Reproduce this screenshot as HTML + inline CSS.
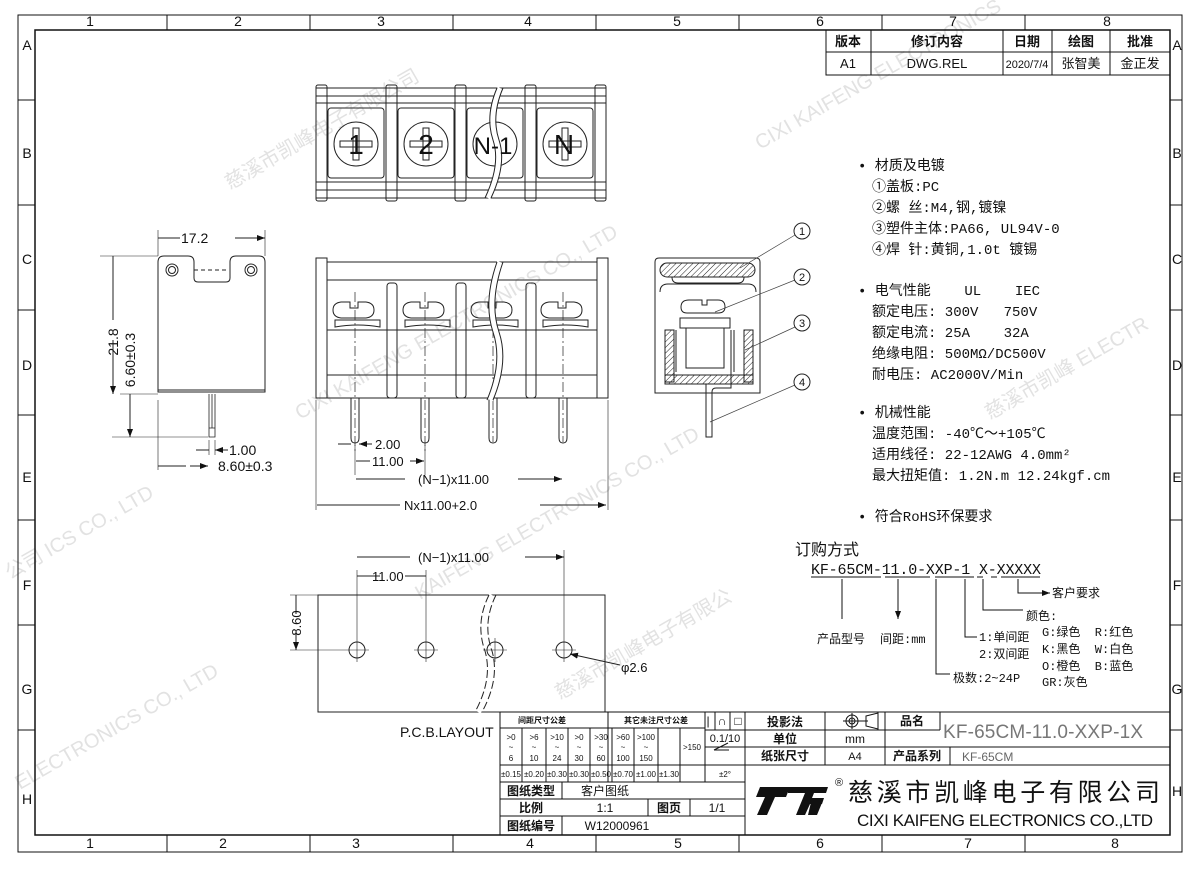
<!DOCTYPE html>
<html><head><meta charset="utf-8"><style>
html,body{margin:0;padding:0;background:#fff;}
svg{display:block;}
text{font-family:"Liberation Sans","Noto Sans CJK SC",sans-serif;fill:#111;}
.cn text, text.cn{font-family:"Liberation Mono","Noto Sans CJK SC",monospace;}
.wm text{fill:#e2e2e2;font-size:20px;}
</style></head><body>
<svg width="1200" height="870" viewBox="0 0 1200 870" xmlns="http://www.w3.org/2000/svg">
<defs>
<pattern id="h" width="4" height="4" patternUnits="userSpaceOnUse" patternTransform="rotate(45)"><line x1="0" y1="0" x2="0" y2="4" stroke="#222" stroke-width="1"/></pattern>
<marker id="a" markerWidth="8" markerHeight="6" refX="8" refY="3" orient="auto"><path d="M0,0 L8,3 L0,6z" fill="#111"/></marker>
</defs>
<rect width="1200" height="870" fill="#fff"/>
<g class="wm">
<text x="230" y="190" transform="rotate(-30 230 190)">慈溪市凯峰电子有限公司</text>
<text x="300" y="420" transform="rotate(-30 300 420)">CIXI KAIFENG ELECTRONICS CO., LTD</text>
<text x="760" y="150" transform="rotate(-30 760 150)">CIXI KAIFENG ELECTRONICS</text>
<text x="420" y="600" transform="rotate(-30 420 600)">KAIFENG ELECTRONICS CO., LTD</text>
<text x="10" y="580" transform="rotate(-30 10 580)">公司 ICS CO., LTD</text>
<text x="20" y="790" transform="rotate(-30 20 790)">ELECTRONICS CO., LTD</text>
<text x="990" y="420" transform="rotate(-30 990 420)">慈溪市凯峰 ELECTR</text>
<text x="560" y="700" transform="rotate(-30 560 700)">慈溪市凯峰电子有限公</text>
</g>
<g fill="none" stroke="#111">
<rect x="18" y="15" width="1164" height="837" stroke-width="1"/>
<rect x="35" y="30" width="1135" height="805" stroke-width="1.5"/>
<path d="M167,15v15 M310,15v15 M453,15v15 M596,15v15 M739,15v15 M882,15v15 M1025,15v15 M167,835v17 M310,835v17 M453,835v17 M596,835v17 M739,835v17 M882,835v17 M1025,835v17
M18,100h17 M18,205h17 M18,310h17 M18,415h17 M18,520h17 M18,625h17 M18,730h17 M1170,100h12 M1170,205h12 M1170,310h12 M1170,415h12 M1170,520h12 M1170,625h12 M1170,730h12"/>
</g>
<g font-size="14" text-anchor="middle">
<text x="90" y="26">1</text><text x="238" y="26">2</text><text x="381" y="26">3</text><text x="528" y="26">4</text><text x="677" y="26">5</text><text x="820" y="26">6</text><text x="953" y="26">7</text><text x="1107" y="26">8</text>
<text x="90" y="848">1</text><text x="223" y="848">2</text><text x="356" y="848">3</text><text x="530" y="848">4</text><text x="678" y="848">5</text><text x="820" y="848">6</text><text x="968" y="848">7</text><text x="1115" y="848">8</text>
<text x="27" y="50">A</text><text x="27" y="158">B</text><text x="27" y="264">C</text><text x="27" y="370">D</text><text x="27" y="482">E</text><text x="27" y="590">F</text><text x="27" y="694">G</text><text x="27" y="804">H</text>
<text x="1177" y="50">A</text><text x="1177" y="158">B</text><text x="1177" y="264">C</text><text x="1177" y="370">D</text><text x="1177" y="482">E</text><text x="1177" y="590">F</text><text x="1177" y="694">G</text><text x="1177" y="796">H</text>
</g>
<g fill="none" stroke="#111"><rect x="826" y="30" width="344" height="45"/><path d="M826,52h344 M871,30v45 M1003,30v45 M1052,30v45 M1110,30v45"/></g>
<g font-size="13" text-anchor="middle">
<text x="848" y="46" font-weight="bold">版本</text><text x="937" y="46" font-weight="bold">修订内容</text><text x="1027" y="46" font-weight="bold">日期</text><text x="1081" y="46" font-weight="bold">绘图</text><text x="1140" y="46" font-weight="bold">批准</text>
<text x="848" y="68">A1</text><text x="937" y="68">DWG.REL</text><text x="1027" y="68" font-size="11">2020/7/4</text><text x="1081" y="68">张智美</text><text x="1140" y="68">金正发</text>
</g>
<g fill="none" stroke="#222" stroke-width="1">
<rect x="316" y="88" width="290" height="110"/>
<path d="M316,96h290 M316,103h290 M316,182h290 M316,190h290"/>
<rect x="316" y="85" width="11" height="116" rx="2"/><rect x="386" y="85" width="11" height="116" rx="2"/><rect x="455" y="85" width="11" height="116" rx="2"/><rect x="525" y="85" width="11" height="116" rx="2"/><rect x="595" y="85" width="11" height="116" rx="2"/>
<rect x="328" y="108" width="56" height="70" rx="3"/><rect x="398" y="108" width="56" height="70" rx="3"/><rect x="467" y="108" width="56" height="70" rx="3"/><rect x="537" y="108" width="56" height="70" rx="3"/>
<circle cx="356" cy="144" r="22"/><circle cx="426" cy="144" r="22"/><circle cx="495" cy="144" r="22"/><circle cx="565" cy="144" r="22"/>
<path d="M340,141h32v6h-32z M353,128h6v32h-6z M410,141h32v6h-32z M423,128h6v32h-6z M549,141h32v6h-32z M562,128h6v32h-6z"/>
<path d="M500,88 q-12,28 -4,52 q8,24 -8,58" stroke="#fff" stroke-width="5"/><path d="M497,88 q-12,28 -4,52 q8,24 -8,58 M503,88 q-12,28 -4,52 q8,24 -8,58"/>
</g>
<g font-size="28" text-anchor="middle"><text x="356" y="154">1</text><text x="426" y="154">2</text><text x="493" y="154" font-size="24">N-1</text><text x="564" y="154">N</text></g>
<g fill="none" stroke="#222" stroke-width="1">
<rect x="316" y="258" width="11" height="140"/><rect x="597" y="258" width="11" height="140"/>
<rect x="327" y="262" width="270" height="18"/>
<path d="M327,280v118h270V280 M327,330h270 M327,375h270"/>
<rect x="387" y="283" width="10" height="115" rx="3"/><rect x="456" y="283" width="10" height="115" rx="3"/><rect x="526" y="283" width="10" height="115" rx="3"/>
<g id="scr"><path d="M341,318 q-8,-1 -8,-8 q0,-7 8,-8 h9 v6 h8 v-6 h8 q8,1 8,8 q0,7 -8,8z M335,320 h45 v7 q-22,-4 -45,0z"/></g>
<use href="#scr" x="70"/><use href="#scr" x="138"/><use href="#scr" x="208"/>
<path d="M351,398v40q0,5 4,5q4,0 4,-5v-40 M421,398v40q0,5 4,5q4,0 4,-5v-40 M489,398v40q0,5 4,5q4,0 4,-5v-40 M559,398v40q0,5 4,5q4,0 4,-5v-40"/>
<path d="M355,292v160 M425,292v160 M493,292v150 M563,292v150" stroke-dasharray="10,3,2,3" stroke-width=".7"/>
<path d="M500,262 q-14,40 -4,70 q10,30 -6,68" stroke="#fff" stroke-width="6"/><path d="M497,262 q-14,40 -4,70 q10,30 -6,68 M503,262 q-14,40 -4,70 q10,30 -6,68"/>
<path d="M316,400v110 M608,400v110 M355,445v30 M425,445v30" stroke-width=".6"/>
<path d="M338,444h13 M372,444h-13" marker-end="url(#a)"/>
<path d="M370,461h-14 M410,461h14" marker-end="url(#a)"/>
<path d="M405,479h-49 M518,479h44" marker-end="url(#a)"/>
<path d="M400,505h-83 M540,505h66" marker-end="url(#a)"/>
</g>
<g font-size="13"><text x="375" y="449">2.00</text><text x="372" y="466">11.00</text><text x="418" y="484">(N−1)x11.00</text><text x="404" y="510">Nx11.00+2.0</text></g>
<g fill="none" stroke="#222" stroke-width="1">
<path d="M158,262 q0,-6 6,-6 h24 q6,0 6,6 v16 q0,4 4,4 h28 q4,0 4,-4 v-16 q0,-6 6,-6 h23 q6,0 6,6 v130 h-107z"/>
<circle cx="172" cy="270" r="6"/><circle cx="172" cy="270" r="3.5"/><circle cx="251" cy="270" r="6"/><circle cx="251" cy="270" r="3.5"/>
<path d="M194,270h34" stroke-dasharray="4,3"/><path d="M158,390h107"/>
<path d="M209,394v43h6v-43 M209,428h6 M212,394v34" stroke-width=".8"/>
<path d="M158,230v26 M265,230v26 M100,256h58 M120,394h38 M112,437h96 M158,400v70 M209,440v15 M215,440v15" stroke-width=".6"/>
<path d="M180,238h-22 M235,238h30" marker-end="url(#a)"/>
<path d="M113,320v-64 M113,340v54" marker-end="url(#a)"/>
<path d="M130,420v-26 M130,420v17" marker-end="url(#a)"/>
<path d="M196,450h13 M228,450h-13" marker-end="url(#a)"/>
<path d="M186,466h-28 M190,466h18" marker-end="url(#a)"/>
</g>
<g font-size="14"><text x="181" y="243">17.2</text><text x="229" y="455">1.00</text><text x="218" y="471">8.60±0.3</text>
<text x="118" y="342" transform="rotate(-90 118 342)" text-anchor="middle">21.8</text>
<text x="135" y="360" transform="rotate(-90 135 360)" text-anchor="middle">6.60±0.3</text></g>
<g fill="none" stroke="#222" stroke-width="1">
<path d="M655,262 q0,-4 4,-4 h97 q4,0 4,4 v131 h-105z"/>
<rect x="660" y="263" width="95" height="14" rx="7" fill="url(#h)"/>
<path d="M672,277 q0,6 6,6 h60 q6,0 6,-6 M660,292 q0,-8 8,-8 h80 q8,0 8,8"/>
<path d="M687,313 q-6,0 -6,-6 q0,-7 8,-7 h13 v5 h5 v-5 h11 q7,0 7,7 q0,6 -7,6z"/>
<path d="M665,330h9v52h-9z M744,330h9v52h-9z M665,375h88v9h-88z" fill="url(#h)"/>
<path d="M680,318h50v10h-50z M686,328h38v40h-38z M676,330v42 M734,330v42"/>
<path d="M706,384v53h6v-45q0,-4 4,-4h15v-58"/>
</g>
<g fill="none" stroke="#444" stroke-width=".7"><path d="M740,268L795,235 M715,312L795,280 M745,350L795,327 M710,422L795,385"/></g>
<g fill="none" stroke="#222"><circle cx="802" cy="231" r="8"/><circle cx="802" cy="277" r="8"/><circle cx="802" cy="323" r="8"/><circle cx="802" cy="382" r="8"/></g>
<g font-size="11" text-anchor="middle"><text x="802" y="235">1</text><text x="802" y="281">2</text><text x="802" y="327">3</text><text x="802" y="386">4</text></g>
<g class="cn" font-size="14">
<text x="858" y="170">• 材质及电镀</text>
<text x="872" y="191">①盖板:PC</text>
<text x="872" y="212">②螺 丝:M4,钢,镀镍</text>
<text x="872" y="233">③塑件主体:PA66, UL94V-0</text>
<text x="872" y="254">④焊 针:黄铜,1.0t 镀锡</text>
<text x="858" y="295" xml:space="preserve">• 电气性能    UL    IEC</text>
<text x="872" y="316" xml:space="preserve">额定电压: 300V   750V</text>
<text x="872" y="337" xml:space="preserve">额定电流: 25A    32A</text>
<text x="872" y="358">绝缘电阻: 500MΩ/DC500V</text>
<text x="872" y="379">耐电压: AC2000V/Min</text>
<text x="858" y="417">• 机械性能</text>
<text x="872" y="438">温度范围: -40℃～+105℃</text>
<text x="872" y="459">适用线径: 22-12AWG 4.0mm²</text>
<text x="872" y="480">最大扭矩值: 1.2N.m 12.24kgf.cm</text>
<text x="858" y="521">• 符合RoHS环保要求</text>
</g>
<text x="795" y="555" font-size="16">订购方式</text>
<text x="811" y="574" font-size="15" class="cn" textLength="230">KF-65CM-11.0-XXP-1 X-XXXXX</text>
<g fill="none" stroke="#111" stroke-width="1">
<path d="M811,577h70 M885,577h45 M935,577h39 M977,577h6 M991,577h6 M1001,577h39"/>
<path d="M842,579v40 M898,579v40" marker-end="url(#a)"/>
<path d="M965,579v58h12 M936,579v95h14 M983,579v31h40 M1018,579v14h32" marker-end="url(#a)"/>
</g>
<g font-size="12" class="cn">
<text x="1052" y="597">客户要求</text><text x="1026" y="620">颜色:</text>
<text x="817" y="643">产品型号</text><text x="880" y="643">间距:mm</text>
<text x="979" y="641">1:单间距</text><text x="979" y="658">2:双间距</text><text x="953" y="682">极数:2~24P</text>
<text x="1042" y="636" xml:space="preserve">G:绿色  R:红色</text><text x="1042" y="653" xml:space="preserve">K:黑色  W:白色</text><text x="1042" y="670" xml:space="preserve">O:橙色  B:蓝色</text><text x="1042" y="686">GR:灰色</text>
</g>
<g fill="none" stroke="#222" stroke-width="1">
<rect x="318" y="595" width="287" height="117"/>
<path d="M492,595 q-14,28 -4,56 q8,28 -10,61" stroke="#fff" stroke-width="6"/><path d="M489,595 q-14,28 -4,56 q8,28 -10,61 M496,595 q-14,28 -4,56 q8,28 -10,61" stroke-dasharray="8,3"/>
<circle cx="357" cy="650" r="8"/><circle cx="426" cy="650" r="8"/><circle cx="495" cy="650" r="8"/><circle cx="564" cy="650" r="8"/>
<path d="M345,650h24 M357,638v24 M414,650h24 M426,638v24 M483,650h24 M495,638v24 M552,650h24 M564,638v24 M357,570v75 M426,570v75 M564,550v95 M290,595h28 M290,650h57" stroke-width=".6"/>
<path d="M380,576h-23 M405,576h21 M410,557h-53 M525,557h39" marker-end="url(#a)"/>
<path d="M296,614v-19 M296,632v18" marker-end="url(#a)"/>
<path d="M620,665l-50,-11" marker-end="url(#a)"/>
</g>
<g font-size="13"><text x="372" y="581">11.00</text><text x="418" y="562">(N−1)x11.00</text><text x="621" y="672">φ2.6</text>
<text x="301" y="623" transform="rotate(-90 301 623)" text-anchor="middle">8.60</text></g>
<text x="400" y="737" font-size="14">P.C.B.LAYOUT</text>
<g fill="none" stroke="#111" stroke-width="1">
<path d="M500,712h670 M500,712v123 M500,728h205 M500,765h245 M500,782h245 M500,799h245 M500,816h245 M705,712v53 M745,712v53 M745,712v123 M705,730h180 M705,747h180 M825,712v53 M885,712v53 M885,747h285 M745,765h425 M705,765v17"/>
<path d="M608,712v70 M522,728v54 M546,728v54 M568,728v54 M590,728v54 M612,728v54 M634,728v54 M658,728v54 M680,728v54 M562,782v17 M562,816v19 M648,799v17 M690,799v17 M715,712v18 M730,712v18 M950,747v18 M940,712v18 M885,730h55"/>
</g>
<g font-size="8" text-anchor="middle">
<text x="542" y="723" font-weight="bold">间距尺寸公差</text><text x="656" y="723" font-weight="bold">其它未注尺寸公差</text>
<text x="511" y="740">&gt;0</text><text x="534" y="740">&gt;6</text><text x="557" y="740">&gt;10</text><text x="579" y="740">&gt;0</text><text x="601" y="740">&gt;30</text><text x="623" y="740">&gt;60</text><text x="646" y="740">&gt;100</text>
<text x="511" y="750">~</text><text x="534" y="750">~</text><text x="557" y="750">~</text><text x="579" y="750">~</text><text x="601" y="750">~</text><text x="623" y="750">~</text><text x="646" y="750">~</text>
<text x="511" y="761">6</text><text x="534" y="761">10</text><text x="557" y="761">24</text><text x="579" y="761">30</text><text x="601" y="761">60</text><text x="623" y="761">100</text><text x="646" y="761">150</text><text x="692" y="750">&gt;150</text>
<text x="511" y="777">±0.15</text><text x="534" y="777">±0.20</text><text x="557" y="777">±0.30</text><text x="579" y="777">±0.30</text><text x="601" y="777">±0.50</text><text x="623" y="777">±0.70</text><text x="646" y="777">±1.00</text><text x="669" y="777">±1.30</text><text x="725" y="777">±2°</text>
</g>
<g font-size="12" text-anchor="middle">
<text x="725" y="742" font-size="11">0.1/10</text><text x="708" y="725">|</text><text x="722" y="725">∩</text><text x="738" y="725">□</text>
<text x="785" y="726" font-weight="bold">投影法</text><text x="785" y="743" font-weight="bold">单位</text><text x="785" y="760" font-weight="bold">纸张尺寸</text>
<text x="855" y="743">mm</text><text x="855" y="760" font-size="11">A4</text>
<text x="912" y="725" font-weight="bold">品名</text><text x="917" y="760" font-weight="bold">产品系列</text>
<text x="531" y="795" font-weight="bold">图纸类型</text><text x="605" y="795">客户图纸</text>
<text x="531" y="812" font-weight="bold">比例</text><text x="605" y="812">1:1</text><text x="669" y="812" font-weight="bold">图页</text><text x="717" y="812">1/1</text>
<text x="531" y="830" font-weight="bold">图纸编号</text><text x="617" y="830">W12000961</text>
</g>
<g fill="none" stroke="#111"><circle cx="852" cy="721" r="6"/><circle cx="852" cy="721" r="3"/><path d="M843,721h25 M852,713v16 M866,716l12,-3v16l-12,-3z"/></g>
<path d="M714,750l14,-7 M714,750h15" stroke="#111" fill="none"/>
<text x="943" y="738" font-size="19" textLength="200" style="fill:#777">KF-65CM-11.0-XXP-1X</text>
<text x="962" y="761" font-size="12" style="fill:#666">KF-65CM</text>
<g fill="#111"><path d="M760,787h30l-4,10h-11l-8,18h-10l8,-18h-9z M788,787h40l-2,6h-12l-2,5h12l-2,6h-12l-5,11h-9l9,-22h-17z M812,798h12l-7,17h-9z"/></g>
<text x="835" y="786" font-size="11">®</text>
<text x="848" y="801" font-size="25" textLength="312" style="font-family:'Noto Sans CJK SC',sans-serif">慈溪市凯峰电子有限公司</text>
<text x="857" y="826" font-size="17" textLength="296">CIXI KAIFENG ELECTRONICS CO.,LTD</text>
</svg>
</body></html>
